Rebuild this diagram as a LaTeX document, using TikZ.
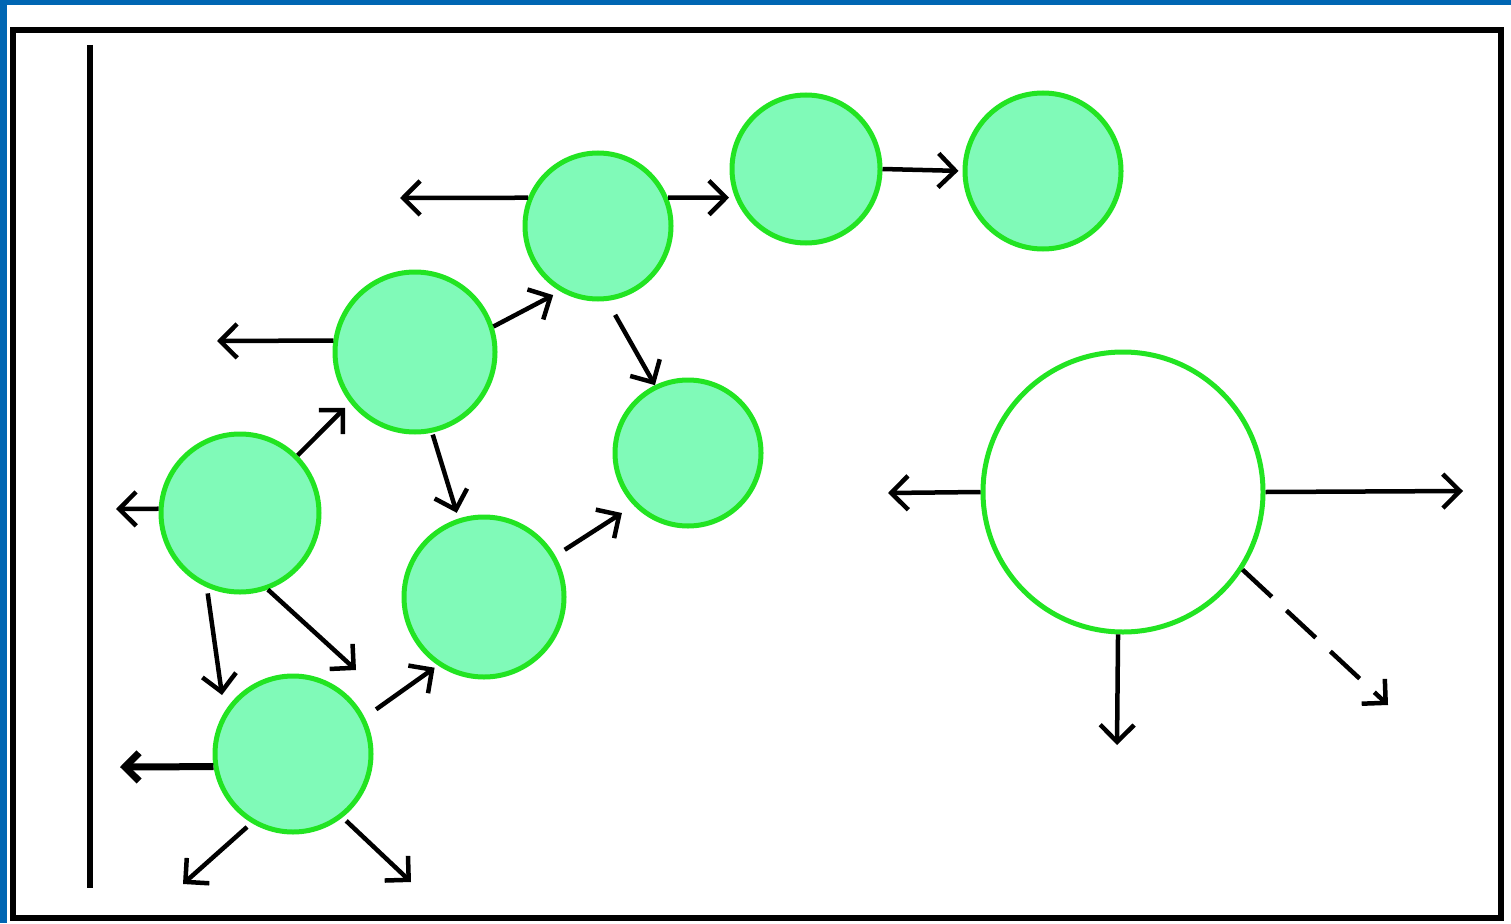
\documentclass[tikz,border=0pt]{standalone}
\usetikzlibrary{arrows.meta}
\definecolor{cellfill}{RGB}{128,250,184}
\definecolor{cellline}{RGB}{34,228,34}
\definecolor{edgeblue}{RGB}{0,102,179}
\begin{document}
\begin{tikzpicture}[x=1pt,y=-1pt,
  cell/.style={circle,draw=cellline,fill=cellfill,line width=5pt,inner sep=0pt},
  bigcell/.style={circle,draw=cellline,fill=white,line width=5pt,inner sep=0pt},
  arr/.style={line width=4.5pt,-{Straight Barb[angle=90:24pt]}},
  thickarr/.style={line width=7pt,-{Straight Barb[angle=90:20pt]}},
  dasharr/.style={arr,dash pattern=on 40pt off 20pt}]
\useasboundingbox (0,0) rectangle (1511,923);
\fill[white] (0,0) rectangle (1511,923);
\fill[edgeblue] (0,0) rectangle (1511,5);
\fill[edgeblue] (0,0) rectangle (7,923);
\draw[line width=6pt] (13,30) rectangle (1501,918);
\coordinate (wtop) at (90,45);
\coordinate (wbot) at (90,888);
\draw[line width=5.5pt] (wtop) -- (wbot);
% cells
\node[cell,minimum size=146pt] (a) at (598,226) {};
\node[cell,minimum size=148pt] (b) at (806,169) {};
\node[cell,minimum size=156pt] (c) at (1043,171) {};
\node[cell,minimum size=160pt] (d) at (415,352) {};
\node[cell,minimum size=146pt] (e) at (688,453) {};
\node[cell,minimum size=158pt] (f) at (240,513) {};
\node[cell,minimum size=160pt] (g) at (484,597) {};
\node[cell,minimum size=156pt] (h) at (293,754) {};
\node[bigcell,minimum size=280pt] (big) at (1123,492) {};
% free ends
\coordinate (aw) at (400,198);
\coordinate (dw) at (217,341);
\coordinate (fw) at (116,509);
\coordinate (fdown) at (222,695);
\coordinate (fdiag) at (356,670);
\coordinate (hw) at (120,767);
\coordinate (hsw) at (183,884);
\coordinate (hse) at (411,882);
\coordinate (bw) at (888,493);
\coordinate (be) at (1463,491);
\coordinate (bs) at (1117,745);
\coordinate (bse) at (1388,705);
% arrows
\draw[arr] (a.158) -- (aw);
\draw[arr,shorten >=6pt] (a.22) -- (b.202);
\draw[arr,shorten >=4pt] (b.0) -- (c.180);
\draw[arr] (d.172) -- (dw);
\draw[arr,shorten >=8pt] (d.18) -- (a.240);
\draw[arr,shorten <=16pt] (a.277) -- (e.116);
\draw[arr] (f.177) -- (fw);
\draw[arr,shorten >=7pt] (f.45) -- (d.218);
\draw[arr,shorten <=2pt,shorten >=6pt] (d.282) -- (g.108);
\draw[arr,shorten <=6pt] (f.246) -- (fdown);
\draw[arr] (f.290) -- (fdiag);
\draw[arr,shorten <=11pt,shorten >=14pt] (g.30) -- (e.224);
\draw[arr,shorten <=14pt,shorten >=4pt] (h.27) -- (g.236);
\draw[thickarr] (h.189) -- (hw);
\draw[arr,shorten <=6pt] (h.239) -- (hsw);
\draw[arr,shorten <=5pt] (h.308) -- (hse);
\draw[arr] (big.180) -- (bw);
\draw[arr] (big.0) -- (be);
\draw[arr] (big.268) -- (bs);
\draw[dasharr] (big.327) -- (bse);
\end{tikzpicture}
\end{document}
